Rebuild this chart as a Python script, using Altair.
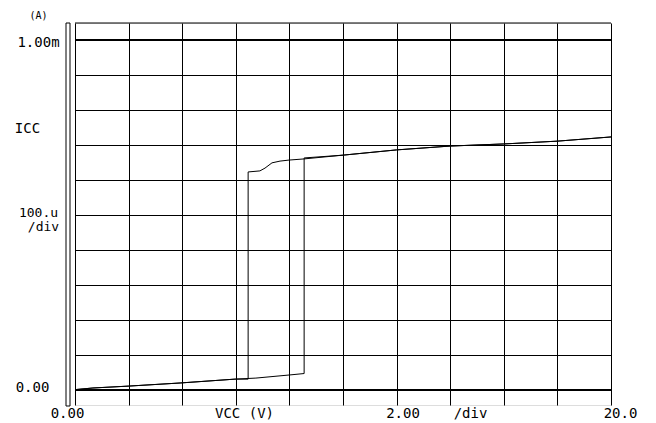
import altair as alt
import pandas as pd

# ---- data (V in volts, I in microamps) ----
fwd_v = [0.0, 0.67, 1.98, 3.92, 5.97, 6.75, 8.02, 8.55, 8.55, 10.0, 12.0, 14.0, 16.0, 18.0, 20.0]
fwd_i = [1, 5.7, 11, 20, 31, 34, 43, 47, 663, 671, 686, 697, 703, 711, 723]

rev_v = [20.0, 18.0, 16.0, 14.0, 12.0, 10.0, 8.51, 7.99, 7.65, 7.35, 7.09, 6.9, 6.46, 6.46, 5.97, 3.92, 1.98, 0.67, 0.0]
rev_i = [723, 711, 703, 697, 686, 671, 660, 657, 654, 649, 634, 626, 623, 31, 31, 20, 11, 5.7, 1]

x_ticks = [0, 2, 4, 6, 8, 10, 12, 14, 16, 18, 20]
y_ticks = [0, 100, 200, 300, 400, 500, 600, 700, 800, 900, 1000]
thick_y = [0, 1000]

y_unit = "(A)"
y_top_label = "1.00m"
y_name = "ICC"
y_div = "100.u"
div_text = "/div"
y_zero_label = "0.00"
x_zero_label = "0.00"
x_name = "VCC  (V)"
x_div = "2.00"
x_end_label = "20.0"

W, H = 536, 382
FONT = "DejaVu Sans Mono"

rows = []
k = 0
for v, i in zip(fwd_v, fwd_i):
    rows.append({"v": v, "i": i, "k": k}); k += 1
for v, i in zip(rev_v, rev_i):
    rows.append({"v": v, "i": i, "k": k}); k += 1
curve_df = pd.DataFrame(rows)

xscale = alt.Scale(domain=[0, 20], nice=False, zero=False)
yscale = alt.Scale(domain=[-42.9, 1048.6], nice=False, zero=False)

xaxis = alt.Axis(values=x_ticks, grid=True, labels=False, ticks=False, domain=False,
                 title=None, gridColor="black", gridOpacity=1, gridWidth=1)
yaxis = alt.Axis(values=y_ticks, grid=True, labels=False, ticks=False, domain=False,
                 title=None, gridColor="black", gridOpacity=1, gridWidth=1)

curve = alt.Chart(curve_df).mark_line(color="black", strokeWidth=1).encode(
    x=alt.X("v:Q", scale=xscale, axis=xaxis),
    y=alt.Y("i:Q", scale=yscale, axis=yaxis),
    order="k:Q",
)

thick = alt.Chart(pd.DataFrame({"i": thick_y})).mark_rule(color="black", strokeWidth=2).encode(
    y=alt.Y("i:Q", scale=yscale, axis=yaxis)
)

one = pd.DataFrame({"a": [0]})

top_line = alt.Chart(one).mark_rule(color="black", strokeWidth=1).encode(
    x=alt.value(0), x2=alt.value(W), y=alt.value(0)
)

left_bar = alt.Chart(one).mark_rect(filled=False, stroke="black", strokeWidth=1).encode(
    x=alt.value(-9), x2=alt.value(-5), y=alt.value(0), y2=alt.value(H + 1)
)


def label(text, x, y, size=14):
    return alt.Chart(one).mark_text(font=FONT, fontSize=size, color="black",
                                    align="center", baseline="alphabetic").encode(
        x=alt.value(x), y=alt.value(y), text=alt.value(text)
    )


texts = [
    label(y_unit, -36.5, -4, 10),
    label(y_top_label, -36.5, 24),
    label(y_name, -47.5, 110),
    label(y_div, -36.5, 194, 13),
    label(div_text, -31.5, 208, 13),
    label(y_zero_label, -42.5, 369),
    label(x_zero_label, -7.5, 395),
    label(x_name, 169.5, 395),
    label(x_div, 328, 395),
    label(div_text, 395.5, 395),
    label(x_end_label, 545.5, 395),
]

chart = alt.layer(curve, thick, top_line, left_bar, *texts).properties(
    width=W, height=H,
    autosize=alt.AutoSizeParams(type="none"),
    padding={"left": 67, "top": 15, "right": 35, "bottom": 16},
).configure_view(stroke=None).configure(background="white")

chart.save("out.html", embed_options={"renderer": "svg", "actions": False})
